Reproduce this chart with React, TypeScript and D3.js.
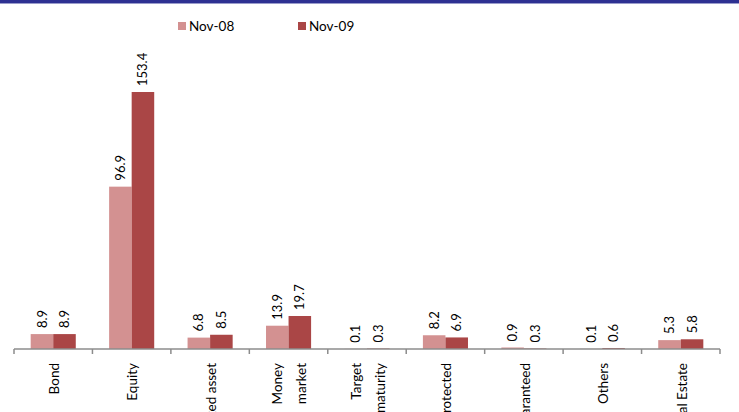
import React from "react";
import * as d3 from "d3";

const categories = ["Bond", "Equity", "Mixed asset", "Money\nmarket", "Target\nmaturity", "Protected", "Guaranteed", "Others", "Real Estate"];
const nov08 = [8.9, 96.9, 6.8, 13.9, 0.1, 8.2, 0.9, 0.1, 5.3];
const nov09 = [8.9, 153.4, 8.5, 19.7, 0.3, 6.9, 0.3, 0.6, 5.8];
const seriesNames = ["Nov-08", "Nov-09"];
const colors = ["#D39191", "#AA4646"];

const W = 739, H = 412;
const font = "Lato, 'Open Sans', sans-serif";

const App = () => {
    const x = d3.scaleBand<string>().domain(categories).range([14, 720]).paddingInner(0).paddingOuter(0);
    const inner = d3.scaleBand<string>().domain(seriesNames).range([0, x.bandwidth()]).paddingInner(0).paddingOuter(0.74);
    const y = d3.scaleLinear().domain([0, 153.4]).range([349, 92]);
    const series = [nov08, nov09];

    return <svg width={W} height={H} style={{position: "absolute", left: 0, top: 0, overflow: "hidden"}} fontFamily={font}>
        <rect x={0} y={0} width={W} height={H} fill="#fff"/>
        <rect x={0} y={0} width={W} height={3} fill="#2E3192"/>
        <rect x={0} y={3} width={W} height={1} fill="#9A9CCB"/>

        {seriesNames.map((s, i) => (
            <g key={s} transform={`translate(${[178, 298][i]},26)`}>
                <rect x={0} y={-4} width={8} height={8} fill={colors[i]}/>
                <text x={11} y={0} dy="0.35em" fontSize={13.5} fill="#000">{s}</text>
            </g>
        ))}

        {series.map((vals, si) => vals.map((v, ci) => {
            const cx = (x(categories[ci]) ?? 0) + (inner(seriesNames[si]) ?? 0);
            const bw = inner.bandwidth();
            return <g key={`${si}-${ci}`}>
                <rect x={cx} y={y(v)} width={bw} height={y(0) - y(v)} fill={colors[si]}/>
                <text transform={`translate(${cx + bw / 2},${y(v) - 6}) rotate(-90)`}
                      dy="0.35em" fontSize={13} fill="#000">{v.toFixed(1)}</text>
            </g>
        }))}

        <line x1={14} x2={720} y1={349} y2={349} stroke="#8c8c8c" strokeWidth={1.5}/>
        {d3.range(categories.length + 1).map(i => {
            const tx = 14 + i * x.step();
            return <line key={i} x1={tx} x2={tx} y1={349} y2={354} stroke="#8c8c8c" strokeWidth={1.5}/>
        })}

        {categories.map(c => {
            const lines = c.split("\n");
            const cx = (x(c) ?? 0) + x.bandwidth() / 2;
            return lines.map((l, li) => (
                <text key={c + li} transform={`translate(${cx + 1 + (li - (lines.length - 1) / 2) * 24},363) rotate(-90)`}
                      textAnchor="end" dy="0.35em" fontSize={13.5} fill="#000">{l}</text>
            ))
        })}
    </svg>
}

export default App
